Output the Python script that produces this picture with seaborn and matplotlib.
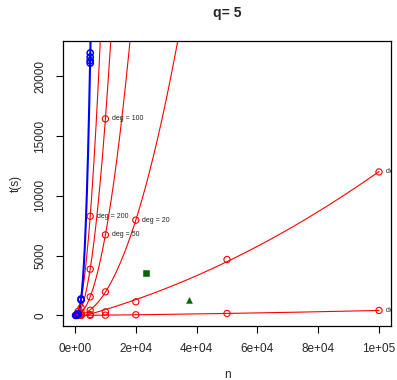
import numpy as np
import pandas as pd
import matplotlib
matplotlib.use("Agg")
import matplotlib.pyplot as plt
import seaborn as sns

# timings per polynomial degree
deg_labels = ["deg = 200", "deg = 100", "deg = 50", "deg = 20", "deg = 5", "deg = 2"]
deg_n = [
    [1000, 2000, 5000],
    [1000, 2000, 5000, 10000],
    [1000, 2000, 5000, 10000],
    [1000, 2000, 5000, 10000, 20000],
    [1000, 2000, 5000, 10000, 20000, 50000, 100000],
    [1000, 2000, 5000, 10000, 20000, 50000, 100000],
]
deg_t = [
    [330, 1330, 8300],
    [160, 650, 3870, 16440],
    [70, 270, 1555, 6740],
    [20, 80, 440, 1975, 7970],
    [5, 15, 80, 300, 1140, 4680, 12000],
    [2, 5, 10, 25, 60, 170, 420],
]

# other method (blue)
blue_n = [200, 500, 1000, 1000, 2000, 2000, 5000, 5000, 5000, 5000]
blue_t = [5, 30, 120, 150, 1300, 1380, 21100, 21300, 21600, 21950]

# single runs (green)
sq_n, sq_t = [23240], [3560]
tri_n, tri_t = [37600], [1280]

sns.set_style("ticks")
plt.rcParams["font.family"] = ["Liberation Sans", "DejaVu Sans"]

fig = plt.figure(figsize=(3.97, 3.80), dpi=100)
ax = fig.add_axes([63 / 397, 1 - 326 / 380, 328 / 397, 285 / 380])

grid = np.linspace(0, 100000, 2000)
for lab, n, t in zip(deg_labels, deg_n, deg_t):
    n = np.array(n, float)
    t = np.array(t, float)
    coef = np.polyfit(n, t, 2)
    sns.lineplot(x=grid, y=np.polyval(coef, grid), color="red", lw=0.8, ax=ax)
    sns.scatterplot(x=n, y=t, marker="o", s=20, facecolor="none",
                    edgecolor="red", linewidth=0.8, ax=ax, zorder=3)
    txt = ax.text(n[-1] + 2200, t[-1], lab, fontsize=5, va="center", ha="left",
                  color="#222222", clip_on=True)
    # R clips text to the plot region
    txt.set_clip_box(ax.bbox)

bn = np.array(blue_n, float)
bt = np.array(blue_t, float)
a3 = np.sum(bt * bn ** 3) / np.sum(bn ** 6)
bgrid = np.linspace(0, 6000, 600)
sns.lineplot(x=bgrid, y=a3 * bgrid ** 3, color="blue", lw=1.5, ax=ax)
sns.scatterplot(x=bn, y=bt, marker="o", s=20, facecolor="none",
                edgecolor="blue", linewidth=1.1, ax=ax, zorder=4)

sns.scatterplot(x=sq_n, y=sq_t, marker="s", s=22, color="#006400",
                edgecolor="#006400", ax=ax, zorder=4)
sns.scatterplot(x=tri_n, y=tri_t, marker="^", s=18, color="#006400",
                edgecolor="#006400", ax=ax, zorder=4)

ax.set_xlim(-3950, 103950)
ax.set_ylim(-880, 22950)
xt = [0, 20000, 40000, 60000, 80000, 100000]
ax.set_xticks(xt)
ax.set_xticklabels(["0e+00", "2e+04", "4e+04", "6e+04", "8e+04", "1e+05"], fontsize=8.5)
yt = [0, 5000, 10000, 15000, 20000]
ax.set_yticks(yt)
ax.set_yticklabels([str(v) for v in yt], fontsize=8.5, rotation=90, va="center")
ax.tick_params(direction="out", length=5, width=0.8, color="black", pad=7)
for s in ax.spines.values():
    s.set_visible(True)
    s.set_color("black")
    s.set_linewidth(0.9)

ax.set_xlabel("n", fontsize=8.5, labelpad=10)
ax.set_ylabel("t(s)", fontsize=8.5, labelpad=9)
ax.set_title("q= 5", fontsize=10, fontweight="bold", pad=17)

fig.savefig("out.png", dpi=100)
